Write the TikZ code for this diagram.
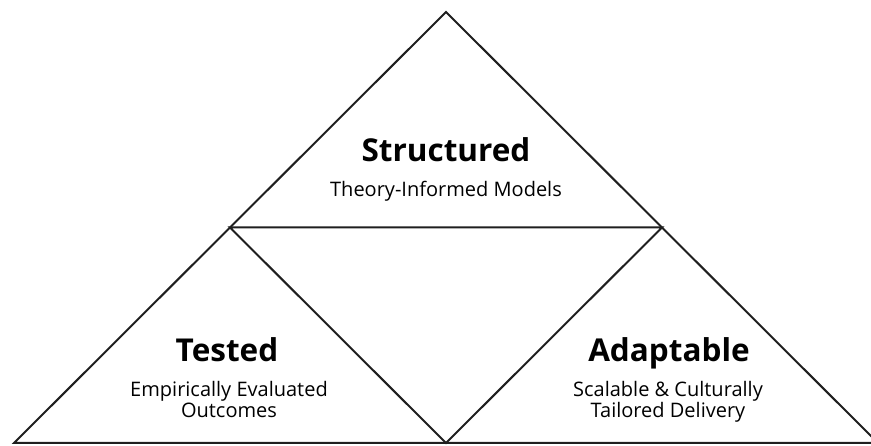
\documentclass[tikz,border=0pt]{standalone}
\usepackage{fontspec}
\setmainfont{Open Sans}
\usepackage{tikz}
\usetikzlibrary{positioning, calc}
\definecolor{edge-gray}{gray}{0.12}

\tikzset{
	side/.style={draw=edge-gray, line width=2pt, line join=miter},
	headline/.style={font=\fontsize{31.5}{34}\selectfont\bfseries, anchor=base, inner sep=0pt},
	subline/.style={font=\fontsize{20}{21.5}\selectfont, anchor=base, inner sep=0pt, align=center}
}

\begin{document}
\begin{tikzpicture}[x=1pt, y=-1pt]
					\useasboundingbox (0,0) rectangle (871,446);
					\clip (0,0) rectangle (871,446);
					
					\coordinate (top) at (446,12);
					\coordinate (left) at (14,443);
					\coordinate (right) at (878,443);
					\coordinate (ml) at ($(top)!0.5!(left)$);
					\coordinate (mr) at ($(top)!0.5!(right)$);
					\coordinate (mb) at ($(left)!0.5!(right)$);
					
					\draw[side] (left) -- (top) -- (right) -- cycle;
					\draw[side] (ml) -- (mr) -- (mb) -- cycle;
					
					\node[headline] at (446,162) (structured) {Structured};
					\node[subline] at (446,197) (theory) {Theory-Informed Models};
					
					\node[headline] at (227,362) (tested) {Tested};
					% base sits on the last line
					\node[subline] at (229,418) (empirical) {Empirically Evaluated\\Outcomes};
					
					\node[headline] at (669,362) (adaptable) {Adaptable};
					\node[subline] at (668,418) (scalable) {Scalable \& Culturally\\Tailored Delivery};
				\end{tikzpicture}
\end{document}
